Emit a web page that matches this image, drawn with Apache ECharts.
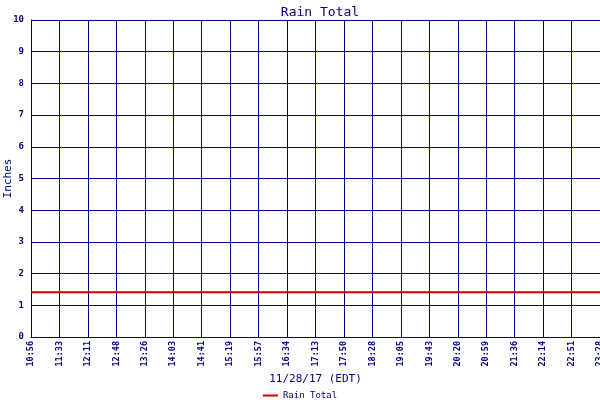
<!DOCTYPE html>
<html>
<head>
<meta charset="utf-8">
<script src="https://cdn.jsdelivr.net/npm/echarts@6/dist/echarts.min.js"></script>
<style>
	html, body { margin: 0; padding: 0; background: #fff; }
	#chart { width: 600px; height: 400px; }
</style>
</head>
<body>
<div id="chart"></div>
<script>
	// time labels along the bottom
	var times = ['10:56', '11:33', '12:11', '12:48', '13:26', '14:03', '14:41', '15:19', '15:57', '16:34',
		'17:13', '17:50', '18:28', '19:05', '19:43', '20:20', '20:59', '21:36', '22:14', '22:51', '23:28'];
	// rain total (inches), flat all afternoon
	var rainTotal = [1.41, 1.41, 1.41, 1.41, 1.41, 1.41, 1.41, 1.41, 1.41, 1.41,
		1.41, 1.41, 1.41, 1.41, 1.41, 1.41, 1.41, 1.41, 1.41, 1.41, 1.41];

	var navy = '#000080';
	var mono = 'DejaVu Sans Mono';

	var chart = echarts.init(document.getElementById('chart'), null, { renderer: 'canvas' });
	var option = {
		animation: false,
		title: {
			text: 'Rain Total',
			left: 315,
			textAlign: 'center',
			top: 1,
			textStyle: { color: navy, fontFamily: mono, fontSize: 13, fontWeight: 'normal' }
		},
		legend: {
			top: 386,
			left: 'center',
			itemWidth: 15,
			itemHeight: 2,
			itemGap: 4,
			icon: 'rect',
			textStyle: { color: navy, fontFamily: mono, fontSize: 9 },
			data: ['Rain Total']
		},
		grid: { left: 31, right: 0, top: 20, bottom: 63, containLabel: false, outerBoundsMode: 'none' },
		xAxis: {
			type: 'category',
			data: times,
			boundaryGap: false,
			name: '11/28/17 (EDT)',
			nameLocation: 'middle',
			nameGap: 37,
			nameMoveOverlap: false,
			nameTextStyle: { color: navy, fontFamily: mono, fontSize: 11 },
			axisLine: { lineStyle: { color: navy, width: 1 } },
			axisTick: { show: false },
			splitLine: { show: true, lineStyle: { color: navy, width: 1 } },
			axisLabel: { interval: 0, rotate: 90, margin: 4, color: navy, fontFamily: mono, fontSize: 8.5, fontWeight: 'bold' }
		},
		yAxis: {
			type: 'value',
			min: 0,
			max: 10,
			interval: 1,
			name: 'Inches',
			nameLocation: 'middle',
			nameGap: 17,
			nameMoveOverlap: false,
			nameTextStyle: { color: navy, fontFamily: mono, fontSize: 11 },
			axisLine: { show: true, lineStyle: { color: navy, width: 1 } },
			axisTick: { show: false },
			splitLine: { show: true, lineStyle: { color: navy, width: 1 } },
			axisLabel: { margin: 7, color: navy, fontFamily: mono, fontSize: 9, fontWeight: 'bold' }
		},
		series: [
			{
				name: 'Rain Total',
				type: 'line',
				data: rainTotal,
				showSymbol: false,
				itemStyle: { color: '#cc0000' },
				lineStyle: { color: '#cc0000', width: 2 }
			}
		]
	};
	chart.setOption(option);
</script>
</body>
</html>
